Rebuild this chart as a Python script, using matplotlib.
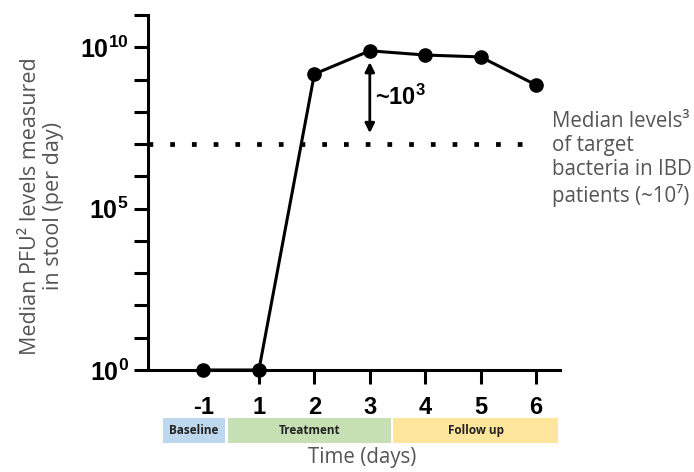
import matplotlib
matplotlib.use("Agg")
import matplotlib.pyplot as plt
from matplotlib.patches import Rectangle
import matplotlib.transforms as mtransforms

# data (days, median PFU per day)
days = ['-1', '1', '2', '3', '4', '5', '6']
pfu = [1, 1, 10**9.17, 10**9.89, 10**9.76, 10**9.70, 10**8.83]
bacteria_level = 1e7
phases = ['Baseline', 'Treatment', 'Follow up']
phase_spans = [(-0.73, 0.39), (0.44, 3.38), (3.42, 6.4)]
phase_colors = ['#bdd7ee', '#c6e0b4', '#fde59b']

plt.rcParams['mathtext.fontset'] = 'custom'
plt.rcParams['mathtext.rm'] = 'Liberation Sans'
plt.rcParams['mathtext.bf'] = 'Liberation Sans:bold'

fig = plt.figure(figsize=(6.94, 4.72), dpi=100)
ax = fig.add_axes([148 / 694, 1 - 370 / 472, (560 - 148) / 694, (370 - 15) / 472])

x = list(range(len(days)))
ax.plot(x, pfu, color='black', lw=2.2, marker='o', ms=9.5, clip_on=False, zorder=5)

# dotted reference line
ax.plot([-1, 5.92], [bacteria_level, bacteria_level], color='black', lw=3.4,
        linestyle=(0, (1, 3.6)), dash_capstyle='butt', clip_on=False)

# double arrow between treatment level and bacteria level
ax.annotate('', xy=(3, 10**7.34), xytext=(3, 10**9.54),
            arrowprops=dict(arrowstyle='<|-|>', color='black', lw=2, mutation_scale=14,
                            shrinkA=0, shrinkB=0))
ax.text(3.1, 10**8.45, r'~$\mathbf{10^3}$', fontsize=17, fontweight='bold',
        family='Liberation Sans', va='center', ha='left')

ax.set_yscale('log')
ax.set_ylim(1, 1e11)
ax.set_xlim(-1, 6.43)
ax.set_yticks([1, 1e5, 1e10])
ax.set_yticklabels([r'$\mathbf{10^0}$', r'$\mathbf{10^5}$', r'$\mathbf{10^{10}}$'], fontsize=18)
ax.set_yticks([10.0**k for k in range(1, 12) if k not in (5, 10)], minor=True)
ax.yaxis.set_minor_formatter(plt.NullFormatter())
ax.tick_params(axis='y', which='both', length=10, width=2.2, direction='out', pad=4)

ax.set_xticks(x)
ax.set_xticklabels(days, fontsize=17, fontweight='bold', family='Liberation Sans')
ax.tick_params(axis='x', length=10, width=2.2, direction='out', pad=9)
ax.xaxis.get_major_ticks()[0].tick1line.set_visible(False)

for s in ['top', 'right']:
    ax.spines[s].set_visible(False)
for s in ['left', 'bottom']:
    ax.spines[s].set_linewidth(2.2)

fig.text(42 / 694, 1 - 206 / 472, 'Median PFU² levels measured\nin stool (per day)',
         rotation=90, ha='center', va='center', fontsize=15.5,
         family=['Open Sans', 'DejaVu Sans'], color='#555555', linespacing=1.1)

# phase bars under the x axis
trans = mtransforms.blended_transform_factory(ax.transData, fig.transFigure)
for name, (a, b), c in zip(phases, phase_spans, phase_colors):
    ax.add_patch(Rectangle((a, 1 - 443 / 472), b - a, 25 / 472, transform=trans,
                           facecolor=c, edgecolor='none', clip_on=False))
    ax.text((a + b) / 2, 1 - 430.5 / 472, name, transform=trans, ha='center', va='center',
            fontsize=8.5, fontweight='bold', family='Open Sans', color='#222222')

fig.text(362 / 694, 1 - 457 / 472, 'Time (days)', ha='center', va='center', fontsize=14.8,
         family='Open Sans', color='#555555')

fig.text(552 / 694, 1 - 159 / 472,
         'Median levels³\nof target\nbacteria in IBD\npatients (~10⁷)',
         ha='left', va='center', fontsize=14.8, family=['Open Sans', 'DejaVu Sans'],
         color='#555555', linespacing=1.2)

fig.savefig('out.png', dpi=100)
